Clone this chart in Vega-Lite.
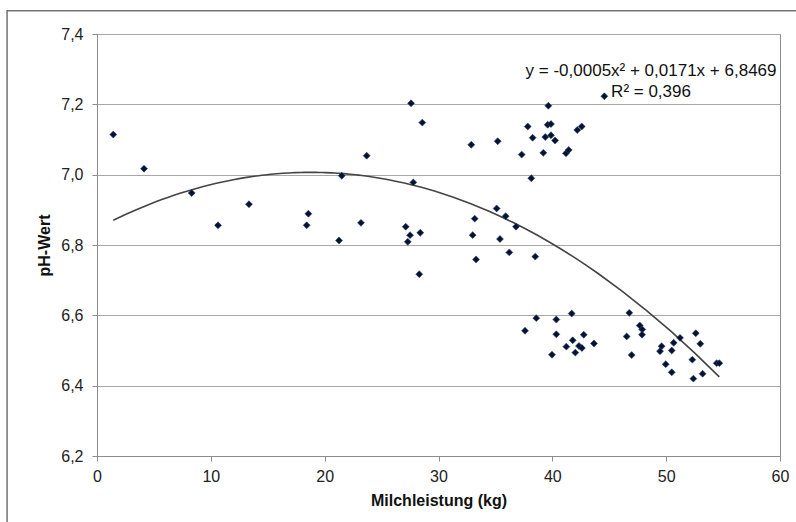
{
  "$schema": "https://vega.github.io/schema/vega-lite/v6.json",
  "width": 683,
  "height": 422,
  "autosize": {"type": "none"},
  "padding": {"left": 97, "top": 34, "right": 16, "bottom": 66},
  "background": "white",
  "config": {
    "font": "Liberation Sans",
    "view": {"stroke": "#8c8c8c", "strokeWidth": 1},
    "axis": {
      "domainColor": "#8c8c8c",
      "tickColor": "#8c8c8c",
      "tickSize": 5,
      "labelFlush": false,
      "labelFont": "Liberation Sans",
      "labelFontSize": 16,
      "labelColor": "#222222",
      "titleFont": "Liberation Sans",
      "titleFontSize": 16,
      "titleFontWeight": "bold",
      "titleColor": "#111111"
    }
  },
  "datasets": {
    "points": [
      {"Milchleistung": 1.43, "pH": 7.114},
      {"Milchleistung": 4.13, "pH": 7.017},
      {"Milchleistung": 8.32, "pH": 6.948},
      {"Milchleistung": 10.63, "pH": 6.856},
      {"Milchleistung": 13.35, "pH": 6.916},
      {"Milchleistung": 18.57, "pH": 6.889},
      {"Milchleistung": 18.42, "pH": 6.856},
      {"Milchleistung": 21.26, "pH": 6.813},
      {"Milchleistung": 21.5, "pH": 6.997},
      {"Milchleistung": 23.19, "pH": 6.863},
      {"Milchleistung": 23.69, "pH": 7.054},
      {"Milchleistung": 27.59, "pH": 7.203},
      {"Milchleistung": 28.58, "pH": 7.148},
      {"Milchleistung": 32.88, "pH": 7.085},
      {"Milchleistung": 35.2, "pH": 7.095},
      {"Milchleistung": 27.79, "pH": 6.978},
      {"Milchleistung": 27.12, "pH": 6.852},
      {"Milchleistung": 27.5, "pH": 6.828},
      {"Milchleistung": 27.3, "pH": 6.809},
      {"Milchleistung": 28.4, "pH": 6.835},
      {"Milchleistung": 28.31, "pH": 6.717},
      {"Milchleistung": 35.11, "pH": 6.904},
      {"Milchleistung": 35.9, "pH": 6.882},
      {"Milchleistung": 36.81, "pH": 6.852},
      {"Milchleistung": 33.18, "pH": 6.875},
      {"Milchleistung": 33.0, "pH": 6.828},
      {"Milchleistung": 35.4, "pH": 6.817},
      {"Milchleistung": 33.3, "pH": 6.759},
      {"Milchleistung": 36.22, "pH": 6.779},
      {"Milchleistung": 38.5, "pH": 6.767},
      {"Milchleistung": 38.15, "pH": 6.99},
      {"Milchleistung": 44.57, "pH": 7.223},
      {"Milchleistung": 39.65, "pH": 7.196},
      {"Milchleistung": 37.84, "pH": 7.137},
      {"Milchleistung": 39.59, "pH": 7.142},
      {"Milchleistung": 39.88, "pH": 7.144},
      {"Milchleistung": 38.27, "pH": 7.105},
      {"Milchleistung": 39.38, "pH": 7.107},
      {"Milchleistung": 39.88, "pH": 7.112},
      {"Milchleistung": 40.24, "pH": 7.097},
      {"Milchleistung": 42.19, "pH": 7.127},
      {"Milchleistung": 42.58, "pH": 7.137},
      {"Milchleistung": 37.31, "pH": 7.057},
      {"Milchleistung": 39.21, "pH": 7.062},
      {"Milchleistung": 41.2, "pH": 7.061},
      {"Milchleistung": 41.44, "pH": 7.07},
      {"Milchleistung": 37.6, "pH": 6.556},
      {"Milchleistung": 38.59, "pH": 6.592},
      {"Milchleistung": 40.35, "pH": 6.588},
      {"Milchleistung": 41.7, "pH": 6.605},
      {"Milchleistung": 40.35, "pH": 6.546},
      {"Milchleistung": 39.97, "pH": 6.488},
      {"Milchleistung": 41.23, "pH": 6.511},
      {"Milchleistung": 41.79, "pH": 6.529},
      {"Milchleistung": 42.02, "pH": 6.494},
      {"Milchleistung": 42.34, "pH": 6.513},
      {"Milchleistung": 42.6, "pH": 6.507},
      {"Milchleistung": 42.76, "pH": 6.545},
      {"Milchleistung": 43.66, "pH": 6.52},
      {"Milchleistung": 46.76, "pH": 6.607},
      {"Milchleistung": 46.53, "pH": 6.54},
      {"Milchleistung": 46.97, "pH": 6.487},
      {"Milchleistung": 47.68, "pH": 6.571},
      {"Milchleistung": 47.9, "pH": 6.56},
      {"Milchleistung": 47.88, "pH": 6.545},
      {"Milchleistung": 49.6, "pH": 6.512},
      {"Milchleistung": 49.46, "pH": 6.498},
      {"Milchleistung": 50.49, "pH": 6.5},
      {"Milchleistung": 50.66, "pH": 6.522},
      {"Milchleistung": 51.22, "pH": 6.536},
      {"Milchleistung": 49.96, "pH": 6.461},
      {"Milchleistung": 50.49, "pH": 6.438},
      {"Milchleistung": 52.6, "pH": 6.549},
      {"Milchleistung": 53.0, "pH": 6.519},
      {"Milchleistung": 52.3, "pH": 6.474},
      {"Milchleistung": 52.39, "pH": 6.42},
      {"Milchleistung": 53.2, "pH": 6.434},
      {"Milchleistung": 54.44, "pH": 6.464},
      {"Milchleistung": 54.67, "pH": 6.464}
    ]
  },
  "layer": [
    {
      "data": {"name": "points"},
      "mark": {"type": "point", "opacity": 0},
      "encoding": {
        "x": {
          "field": "Milchleistung",
          "type": "quantitative",
          "scale": {"domain": [0, 60], "nice": false, "zero": false},
          "axis": {
            "title": "Milchleistung (kg)",
            "values": [0, 10, 20, 30, 40, 50, 60],
            "grid": false,
            "labelFlush": false,
            "labelPadding": 7,
            "titlePadding": 8
          }
        },
        "y": {
          "field": "pH",
          "type": "quantitative",
          "scale": {"domain": [6.2, 7.4], "nice": false, "zero": false},
          "axis": {
            "title": "pH-Wert",
            "values": [6.2, 6.4, 6.6, 6.8, 7.0, 7.2, 7.4],
            "labelExpr": "replace(format(datum.value, '.1f'), '.', ',')",
            "grid": true,
            "gridColor": "#a8a8a8",
            "gridWidth": 1,
            "labelFlush": false,
            "labelPadding": 9,
            "titlePadding": 8
          }
        }
      }
    },
    {
      "data": {"values": [{"frame": "outer"}]},
      "mark": {"type": "rect", "fillOpacity": 0, "stroke": "#737373", "strokeWidth": 1.5, "clip": false},
      "encoding": {
        "x": {"datum": -7.9, "type": "quantitative"},
        "x2": {"datum": 66},
        "y": {"datum": 7.466, "type": "quantitative"},
        "y2": {"datum": 5.5}
      }
    },
    {
      "data": {"name": "points"},
      "transform": [
        {"regression": "pH", "on": "Milchleistung", "method": "poly", "order": 2, "extent": [1.43, 54.67]}
      ],
      "mark": {"type": "line", "color": "#444444", "strokeWidth": 1.6},
      "encoding": {
        "x": {"field": "Milchleistung", "type": "quantitative"},
        "y": {"field": "pH", "type": "quantitative"}
      }
    },
    {
      "data": {"name": "points"},
      "mark": {"type": "point", "shape": "diamond", "filled": true, "size": 48, "color": "#08122e", "opacity": 1, "stroke": "#1d3f7a", "strokeWidth": 0.6},
      "encoding": {
        "x": {"field": "Milchleistung", "type": "quantitative"},
        "y": {"field": "pH", "type": "quantitative"}
      }
    },
    {
      "data": {"values": [{"eq": "y = -0,0005x² + 0,0171x + 6,8469", "r2": "R² = 0,396"}]},
      "mark": {"type": "text", "align": "center", "baseline": "alphabetic", "fontSize": 17, "font": "Liberation Sans", "color": "#111111", "lineHeight": 21},
      "encoding": {
        "x": {"datum": 48.67, "type": "quantitative"},
        "y": {"datum": 7.2815, "type": "quantitative"},
        "text": {"value": ["y = -0,0005x² + 0,0171x + 6,8469", "R² = 0,396"]}
      }
    }
  ]
}
